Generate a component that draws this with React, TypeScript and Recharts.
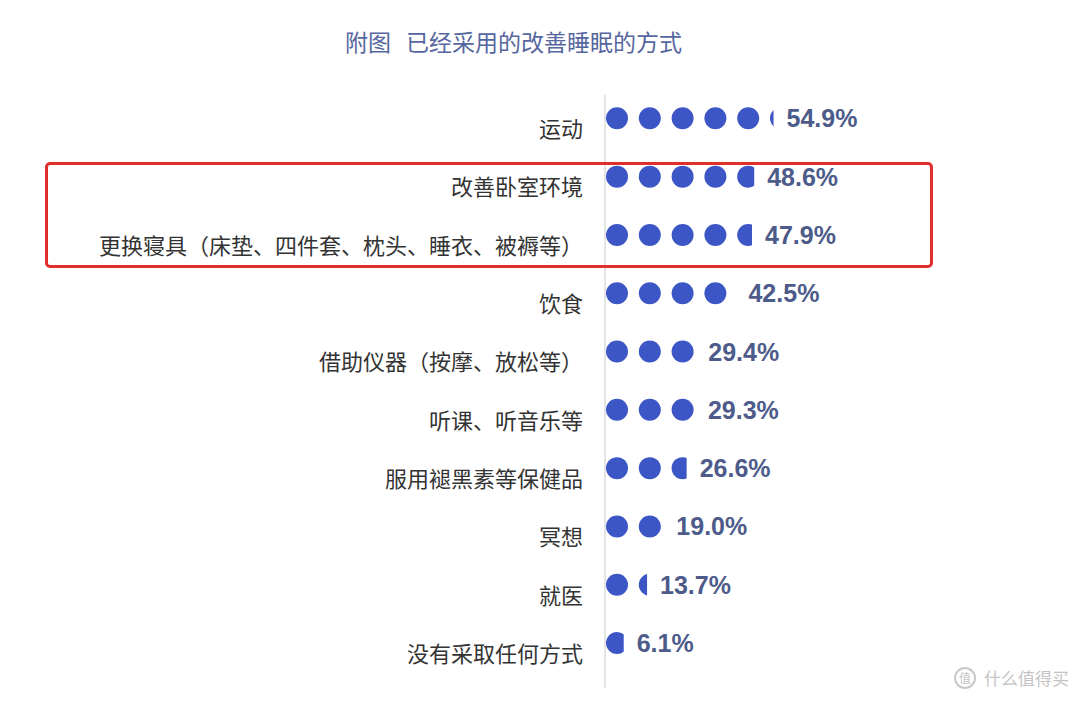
import React from "react";
import { Bar, BarChart, LabelList, XAxis, YAxis } from "recharts";

const methods = [
  "运动",
  "改善卧室环境",
  "更换寝具（床垫、四件套、枕头、睡衣、被褥等）",
  "饮食",
  "借助仪器（按摩、放松等）",
  "听课、听音乐等",
  "服用褪黑素等保健品",
  "冥想",
  "就医",
  "没有采取任何方式",
];

const shares = [54.9, 48.6, 47.9, 42.5, 29.4, 29.3, 26.6, 19.0, 13.7, 6.1];

const rows = methods.map((name, i) => ({ name, value: shares[i] }));

const dotColor = "#3d56c6";
const dotRadius = 11;
const dotPitch = 32.8;

function DotShape(props: any) {
  const { x, y, width, height, index } = props;
  const cy = y + height / 2;
  const clipId = `dot-clip-${index}`;
  const dots = [];
  for (let k = 0; x + 1 + k * dotPitch < x + width; k++) {
    dots.push(<circle key={k} cx={x + 1 + dotRadius + k * dotPitch} cy={cy} r={dotRadius} fill={dotColor} />);
  }
  return (
    <g>
      <defs>
        <clipPath id={clipId}>
          <rect x={x} y={cy - dotRadius - 2} width={width} height={dotRadius * 2 + 4} />
        </clipPath>
      </defs>
      <g clipPath={`url(#${clipId})`}>{dots}</g>
    </g>
  );
}

function ValueLabel(props: any) {
  const { x, y, width, height, value } = props;
  return (
    <text
      x={x + width + 13}
      y={y + height / 2}
      dominantBaseline="central"
      fill="#4d5b8a"
      fontSize={25}
      fontWeight={700}
      fontFamily="'Liberation Sans', Arial, sans-serif"
    >
      {`${Number(value).toFixed(1)}%`}
    </text>
  );
}

function MethodTick(props: any) {
  const { y, payload } = props;
  return (
    <text
      x={583}
      y={y + 9}
      textAnchor="end"
      dominantBaseline="central"
      fill="#333333"
      fontSize={22}
      fontFamily="'Noto Sans CJK SC', sans-serif"
    >
      {payload.value}
    </text>
  );
}

export default function App() {
  const titleStyle: React.CSSProperties = {
    position: "absolute",
    top: 26,
    fontSize: 23,
    lineHeight: "30px",
    color: "#56669e",
    fontFamily: "'Noto Sans CJK SC', sans-serif",
    whiteSpace: "nowrap",
  };

  return (
    <div style={{ position: "absolute", left: 0, top: 0, width: 1080, height: 701, background: "#ffffff", overflow: "hidden" }}>
      <div style={{ ...titleStyle, left: 345 }}>附图</div>
      <div style={{ ...titleStyle, left: 406 }}>已经采用的改善睡眠的方式</div>

      {/* axis line runs a bit past the rows in the original */}
      <div style={{ position: "absolute", left: 604, top: 95, width: 2, height: 593, background: "#e4e4e4" }} />

      <BarChart
        width={1080}
        height={701}
        data={rows}
        layout="vertical"
        margin={{ top: 89, right: 168, bottom: 29, left: 0 }}
        barCategoryGap="10%"
        style={{ position: "absolute", left: 0, top: 0 }}
      >
        <XAxis type="number" domain={[0, 100]} hide />
        <YAxis
          type="category"
          dataKey="name"
          width={605}
          axisLine={false}
          tickLine={false}
          tick={<MethodTick />}
          interval={0}
        />
        <Bar dataKey="value" shape={<DotShape />} isAnimationActive={false}>
          <LabelList dataKey="value" content={<ValueLabel />} />
        </Bar>
      </BarChart>

      <div
        style={{
          position: "absolute",
          left: 45,
          top: 162,
          width: 882,
          height: 100,
          border: "3px solid #e0302c",
          borderRadius: 5,
        }}
      />

      <div
        style={{
          position: "absolute",
          left: 954,
          top: 666,
          display: "flex",
          alignItems: "center",
          gap: 8,
          color: "#c4c4c4",
          fontFamily: "'Noto Sans CJK SC', sans-serif",
          fontSize: 17,
          lineHeight: "24px",
          whiteSpace: "nowrap",
        }}
      >
        <span
          style={{
            width: 18,
            height: 18,
            borderRadius: 11,
            border: "2px solid #c8c8c8",
            display: "flex",
            alignItems: "center",
            justifyContent: "center",
            fontSize: 12,
            lineHeight: "18px",
          }}
        >
          值
        </span>
        <span>什么值得买</span>
      </div>
    </div>
  );
}
